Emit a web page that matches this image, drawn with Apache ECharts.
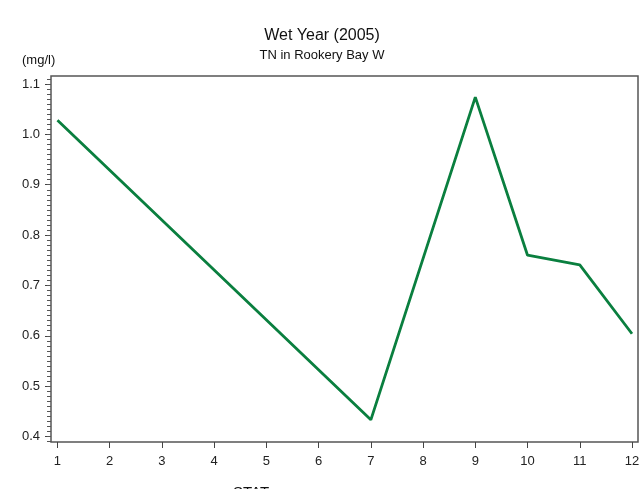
<!DOCTYPE html>
<html>
<head>
<meta charset="utf-8">
<script src="https://cdn.jsdelivr.net/npm/echarts@6/dist/echarts.min.js"></script>
<style>
html,body{margin:0;padding:0;background:#fff;}
#chart{width:644px;height:489px;}
</style>
</head>
<body>
<div id="chart"></div>
<script>
// ---- data ----
var stations = [1, 7, 9, 10, 11, 12];
var tnValues = [1.028, 0.433, 1.074, 0.760, 0.741, 0.604];
var xTicks = [1, 2, 3, 4, 5, 6, 7, 8, 9, 10, 11, 12];
var yTicks = [0.4, 0.5, 0.6, 0.7, 0.8, 0.9, 1.0, 1.1];
var titleText = 'Wet Year (2005)';
var subtitleText = 'TN in Rookery Bay W';
var unitText = '(mg/l)';
var xName = 'STAT';

var minorTicks = [];
for (var i = 39; i <= 111; i++) minorTicks.push(+(i / 100).toFixed(2));

var seriesData = stations.map(function (s, i) { return [s, tnValues[i]]; });

var font = '"Liberation Sans", Arial, sans-serif';
var chart = echarts.init(document.getElementById('chart'));
chart.setOption({
  animation: false,
  backgroundColor: '#fff',
  grid: {
    left: 51, right: 6, top: 76, bottom: 47,
    show: true, borderColor: '#555', borderWidth: 1.5, backgroundColor: 'transparent'
  },
  xAxis: {
    type: 'value', min: 0.876, max: 12.115,
    axisLine: { show: false },
    splitLine: { show: false },
    axisTick: { show: true, customValues: xTicks, length: 6, lineStyle: { color: '#444', width: 1 } },
    axisLabel: { customValues: xTicks, margin: 13, fontSize: 13, color: '#222', fontFamily: font }
  },
  yAxis: [{
    type: 'value', min: 0.389, max: 1.116,
    axisLine: { show: false },
    splitLine: { show: false },
    axisTick: { show: true, customValues: yTicks, length: 6, lineStyle: { color: '#444', width: 1 } },
    axisLabel: {
      customValues: yTicks, margin: 11, fontSize: 13, color: '#222', fontFamily: font,
      formatter: function (v) { return v.toFixed(1); }
    }
  }, {
    type: 'value', min: 0.389, max: 1.116, position: 'left', offset: 0,
    axisLine: { show: false },
    splitLine: { show: false },
    axisTick: { show: true, customValues: minorTicks, length: 4, lineStyle: { color: '#555', width: 1 } },
    axisLabel: { show: false }
  }],
  graphic: [
    { type: 'text', left: 'center', top: 28, style: { text: titleText, font: '16px ' + font, fill: '#111' } },
    { type: 'text', left: 'center', top: 49, style: { text: subtitleText, font: '13px ' + font, fill: '#111' } },
    { type: 'text', left: 22, top: 54, style: { text: unitText, font: '13px ' + font, fill: '#111' } },
    { type: 'text', left: 233, top: 485, style: { text: xName, font: '15px ' + font, fill: '#111' } }
  ],
  series: [{
    type: 'line',
    data: seriesData,
    yAxisIndex: 0,
    showSymbol: false,
    lineStyle: { color: '#0a7f3f', width: 2.8 },
    z: 5
  }]
});
</script>
</body>
</html>
